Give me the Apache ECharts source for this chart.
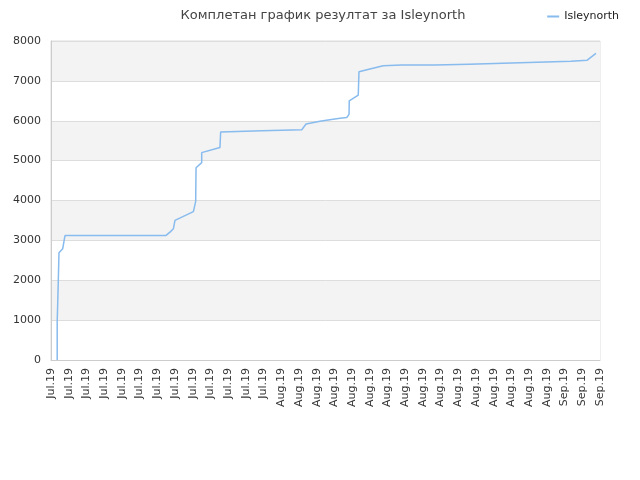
<!DOCTYPE html>
<html>
<head>
<meta charset="utf-8">
<script src="https://cdn.jsdelivr.net/npm/echarts@6/dist/echarts.min.js"></script>
<style>
  html, body { margin: 0; padding: 0; background: #fff; }
  #chart { width: 640px; height: 480px; }
</style>
</head>
<body>
<div id="chart"></div>
<script>
// tick labels along the x axis, one per step
var tickLabels = [
    'Jul.19', 'Jul.19', 'Jul.19', 'Jul.19', 'Jul.19', 'Jul.19', 'Jul.19', 'Jul.19',
    'Jul.19', 'Jul.19', 'Jul.19', 'Jul.19', 'Jul.19',
    'Aug.19', 'Aug.19', 'Aug.19', 'Aug.19', 'Aug.19', 'Aug.19', 'Aug.19', 'Aug.19',
    'Aug.19', 'Aug.19', 'Aug.19', 'Aug.19', 'Aug.19', 'Aug.19', 'Aug.19', 'Aug.19',
    'Sep.19', 'Sep.19', 'Sep.19'
];

// position along the axis (in tick steps) and score
var positions = [
    0.35, 0.35, 0.41, 0.41, 0.45, 0.5, 0.66, 0.75, 0.79,
    6.48, 6.75, 6.91, 7.0, 8.04, 8.17, 8.19, 8.51, 8.51, 9.54, 9.58, 9.62,
    11.9, 11.95, 14.16, 14.4, 15.19, 15.64, 16.32, 16.7, 16.83, 16.84, 17.35, 17.39,
    18.01, 18.76, 19.8, 21.68, 21.7, 23.6, 23.62, 25.52, 25.55, 27.44, 27.47,
    29.36, 29.4, 30.28, 30.77
];
var scores = [
    0, 960, 960, 1930, 2690, 2730, 2790, 2800, 3120,
    3120, 3220, 3290, 3500, 3720, 3980, 4820, 4950, 5200, 5330, 5720, 5750,
    5750, 5775, 5775, 5920, 5990, 6020, 6060, 6080, 6160, 6500, 6640, 7230,
    7300, 7380, 7395, 7395, 7420, 7420, 7445, 7445, 7470, 7470, 7495,
    7495, 7520, 7520, 7690
];

var myChart = echarts.init(document.getElementById('chart'));

var points = positions.map(function(p, i) {
    return [p, scores[i]];
});

var option = {
    animation: false,
    title: {
        text: 'Комплетан график резултат за Isleynorth',
        left: 318,
        textAlign: 'center',
        top: 4,
        textStyle: {
            fontFamily: 'DejaVu Sans',
            fontSize: 13,
            fontWeight: 'normal',
            color: '#444'
        }
    },
    legend: {
        right: 16,
        top: 6,
        itemWidth: 12,
        itemHeight: 2,
        itemGap: 8,
        icon: 'rect',
        textStyle: { fontFamily: 'DejaVu Sans', fontSize: 11, color: '#222' },
        data: ['Isleynorth']
    },
    grid: {
        left: 51,
        right: 40,
        top: 41,
        bottom: 120,
        show: true,
        borderColor: '#ddd',
        borderWidth: 1
    },
    xAxis: {
        type: 'value',
        min: 0,
        max: 31,
        interval: 1,
        axisLine: { lineStyle: { color: '#ccc' } },
        axisTick: { show: false },
        splitLine: { show: false },
        axisLabel: {
            rotate: 90,
            fontFamily: 'DejaVu Sans',
            fontSize: 11,
            color: '#333',
            margin: 8,
            formatter: function(v) {
                return tickLabels[Math.round(v)] || '';
            }
        }
    },
    yAxis: {
        type: 'value',
        min: 0,
        max: 8000,
        interval: 1000,
        axisLine: { show: true, lineStyle: { color: '#ccc' } },
        axisTick: { show: false },
        axisLabel: {
            fontFamily: 'DejaVu Sans',
            fontSize: 11,
            color: '#333',
            margin: 10,
            formatter: function(v) {
                return String(v);
            }
        },
        splitLine: { lineStyle: { color: '#ddd' } },
        splitArea: {
            show: true,
            areaStyle: { color: ['#ffffff', '#f3f3f3'] }
        }
    },
    series: [{
        name: 'Isleynorth',
        type: 'line',
        showSymbol: false,
        data: points,
        lineStyle: { color: '#88bbee', width: 1.5 },
        itemStyle: { color: '#88bbee' }
    }]
};
myChart.setOption(option);
</script>
</body>
</html>
